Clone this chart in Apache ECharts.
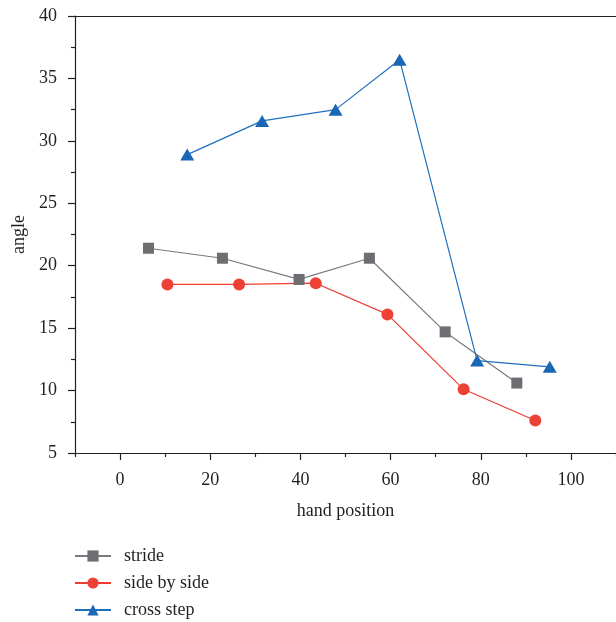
<!DOCTYPE html>
<html><head><meta charset="utf-8">
<script src="https://cdn.jsdelivr.net/npm/echarts@6/dist/echarts.min.js"></script>
<style>html,body{margin:0;padding:0;background:#fff}#c{width:616px;height:622px}</style>
</head><body><div id="c"></div>
<script>
var seriesNames = ['stride', 'side by side', 'cross step'];
var strideX = [6.3, 22.7, 39.7, 55.3, 72.1, 88.0];
var strideY = [21.4, 20.6, 18.9, 20.6, 14.7, 10.6];
var sideX = [10.5, 26.4, 43.4, 59.3, 76.2, 92.1];
var sideY = [18.5, 18.5, 18.6, 16.1, 10.1, 7.6];
var crossX = [14.9, 31.5, 47.8, 62.0, 79.2, 95.3];
var crossY = [28.9, 31.6, 32.5, 36.5, 12.4, 11.9];
var xTicks = [0, 20, 40, 60, 80, 100];
var xMinorTicks = [-10, 10, 30, 50, 70, 90, 110];
var yTicks = [5, 10, 15, 20, 25, 30, 35, 40];

function pairs(xs, ys) { return xs.map(function (x, i) { return [x, ys[i]]; }); }
var font = 'Liberation Serif';
var axisCol = '#231f20';
var chart = echarts.init(document.getElementById('c'));
chart.setOption({
  animation: false,
  textStyle: { fontFamily: font },
  grid: { left: 75, right: -3, top: 16, bottom: 169, containLabel: false },
  legend: {
    orient: 'vertical', left: 74, top: 546, itemGap: 7, padding: 0,
    itemWidth: 36, itemHeight: 14,
    textStyle: { fontFamily: font, fontSize: 18, lineHeight: 20, color: axisCol, padding: [0, 0, 0, 8] },
    data: seriesNames
  },
  xAxis: [{
    type: 'value', min: -10, max: 110, interval: 10,
    name: 'hand position', nameLocation: 'middle', nameGap: 49,
    nameTextStyle: { fontFamily: font, fontSize: 18, color: axisCol },
    axisLine: { show: true, onZero: false, lineStyle: { color: axisCol, width: 1.2 } },
    axisTick: { show: true, inside: false, length: 7, customValues: xTicks, lineStyle: { color: axisCol, width: 1.2 } },
    axisLabel: { fontFamily: font, fontSize: 18, color: axisCol, margin: 18, customValues: xTicks },
    splitLine: { show: false }
  }, {
    type: 'value', position: 'top', min: -10, max: 110, interval: 10,
    axisLine: { show: true, onZero: false, lineStyle: { color: axisCol, width: 1.2 } },
    axisTick: { show: false }, axisLabel: { show: false }, splitLine: { show: false }
  }, {
    type: 'value', position: 'bottom', min: -10, max: 110, interval: 10, offset: 0,
    axisLine: { show: false },
    axisTick: { show: true, inside: false, length: 4, customValues: xMinorTicks, lineStyle: { color: axisCol, width: 1.2 } },
    axisLabel: { show: false }, splitLine: { show: false }
  }],
  yAxis: {
    type: 'value', min: 5, max: 40, interval: 5,
    name: 'angle', nameLocation: 'middle', nameGap: 46, nameRotate: 90,
    nameTextStyle: { fontFamily: font, fontSize: 18, color: axisCol },
    axisLine: { show: true, onZero: false, lineStyle: { color: axisCol, width: 1.2 } },
    axisTick: { show: true, inside: false, length: 7, lineStyle: { color: axisCol, width: 1.2 } },
    minorTick: { show: true, splitNumber: 2, length: 4, lineStyle: { color: axisCol, width: 1.2 } },
    axisLabel: { fontFamily: font, fontSize: 18, color: axisCol, margin: 18 },
    splitLine: { show: false }
  },
  series: [{
    name: seriesNames[0], type: 'line', data: pairs(strideX, strideY),
    symbol: 'rect', symbolSize: 11,
    lineStyle: { color: '#7a7a7c', width: 1.2 },
    itemStyle: { color: '#6d6e71' }
  }, {
    name: seriesNames[1], type: 'line', data: pairs(sideX, sideY),
    symbol: 'circle', symbolSize: 12,
    lineStyle: { color: '#ee3b2f', width: 1.2 },
    itemStyle: { color: '#ee4136' }
  }, {
    name: seriesNames[2], type: 'line', data: pairs(crossX, crossY),
    symbol: 'triangle', symbolSize: [14, 12],
    lineStyle: { color: '#1f6fbf', width: 1.2 },
    itemStyle: { color: '#1a67b5' }
  }]
});
</script></body></html>
